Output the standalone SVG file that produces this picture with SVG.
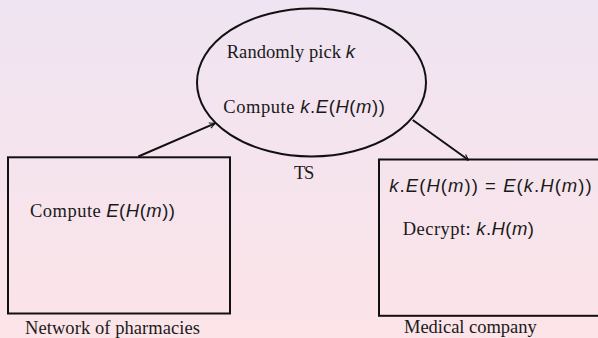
<svg xmlns="http://www.w3.org/2000/svg" width="598" height="338" viewBox="0 0 598 338">
<defs>
<linearGradient id="bg" x1="0" y1="0" x2="0" y2="1">
<stop offset="0" stop-color="#EFE4F2"/>
<stop offset="1" stop-color="#FCE4E8"/>
</linearGradient>
<marker id="arr" viewBox="0 0 10 10" refX="9" refY="5" markerWidth="7" markerHeight="7" markerUnits="userSpaceOnUse" orient="auto">
<path d="M1,1 L9,5 L1,9" fill="none" stroke="#111" stroke-width="1.6"/>
</marker>
</defs>
<style>
.shape{fill:none;stroke:#111;stroke-width:2}
.conn{fill:none;stroke:#111;stroke-width:2}
text{font-family:"Liberation Serif","Times New Roman",serif;font-size:18.5px;fill:#1a1a1a}
.m{font-family:"Liberation Sans",Arial,sans-serif;font-style:italic}
.u{font-family:"Liberation Sans",Arial,sans-serif;font-style:normal}
</style>
<rect x="0" y="0" width="598" height="338" fill="url(#bg)"/>
<g id="connectors">
<line class="conn" x1="138.3" y1="156.5" x2="215" y2="123.3" marker-end="url(#arr)"/>
<line class="conn" x1="412.7" y1="120" x2="468.5" y2="160" marker-end="url(#arr)"/>
</g>
<g id="ts">
<ellipse class="shape" cx="311.5" cy="82.5" rx="114.5" ry="74"/>
<text x="226.7" y="58.3" textLength="128.3" lengthAdjust="spacing">Randomly pick <tspan class="m">k</tspan></text>
<text x="223.3" y="112.7" textLength="161.7" lengthAdjust="spacing">Compute <tspan class="m">k</tspan><tspan class="u">.</tspan><tspan class="m">E</tspan><tspan class="u">(</tspan><tspan class="m">H</tspan><tspan class="u">(</tspan><tspan class="m">m</tspan><tspan class="u">))</tspan></text>
<text x="294" y="179.3" textLength="20.3" lengthAdjust="spacing">TS</text>
</g>
<g id="pharmacies">
<rect class="shape" x="8" y="157.3" width="222" height="156.2"/>
<text x="30" y="216.7" textLength="145" lengthAdjust="spacing">Compute <tspan class="m">E</tspan><tspan class="u">(</tspan><tspan class="m">H</tspan><tspan class="u">(</tspan><tspan class="m">m</tspan><tspan class="u">))</tspan></text>
<text x="25" y="334.3" textLength="175" lengthAdjust="spacing">Network of pharmacies</text>
</g>
<g id="medical">
<rect class="shape" x="379" y="159.5" width="222" height="156.3"/>
<text x="389.3" y="191.7" textLength="202.4" lengthAdjust="spacing"><tspan class="m">k</tspan><tspan class="u">.</tspan><tspan class="m">E</tspan><tspan class="u">(</tspan><tspan class="m">H</tspan><tspan class="u">(</tspan><tspan class="m">m</tspan><tspan class="u">)) = </tspan><tspan class="m">E</tspan><tspan class="u">(</tspan><tspan class="m">k</tspan><tspan class="u">.</tspan><tspan class="m">H</tspan><tspan class="u">(</tspan><tspan class="m">m</tspan><tspan class="u">))</tspan></text>
<text x="402.7" y="235" textLength="131.3" lengthAdjust="spacing">Decrypt: <tspan class="m">k</tspan><tspan class="u">.</tspan><tspan class="m">H</tspan><tspan class="u">(</tspan><tspan class="m">m</tspan><tspan class="u">)</tspan></text>
<text x="404" y="333.3" textLength="132.7" lengthAdjust="spacing">Medical company</text>
</g>
</svg>
